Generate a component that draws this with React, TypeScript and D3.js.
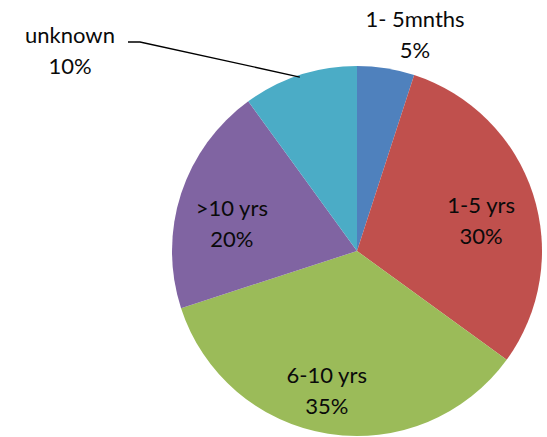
import React from "react";
import * as d3 from "d3";

// Slices in clockwise order starting at 12 o'clock
const categories = ["1- 5mnths", "1-5 yrs", "6-10 yrs", ">10 yrs", "unknown"];
const shares = [5, 30, 35, 20, 10];
const percentLabels = ["5%", "30%", "35%", "20%", "10%"];
const colors = ["#4F81BD", "#C0504D", "#9BBB59", "#8064A2", "#4BACC6"];

const W = 547;
const H = 437;
const CX = 357;
const CY = 251;
const R = 185;
const FONT = "Lato, 'Open Sans', sans-serif";
const FS = 22;
const LINE = 31;

type Datum = { name: string; value: number; pct: string; color: string };

export default function App() {
  const data: Datum[] = categories.map((name, i) => ({
    name,
    value: shares[i],
    pct: percentLabels[i],
    color: colors[i],
  }));

  const pie = d3
    .pie<Datum>()
    .value((d) => d.value)
    .sort(null)
    .startAngle(0)
    .endAngle(2 * Math.PI);
  const arcs = pie(data);

  const arc = d3.arc<d3.PieArcDatum<Datum>>().innerRadius(0).outerRadius(R);
  const labelArc = d3
    .arc<d3.PieArcDatum<Datum>>()
    .innerRadius(R * 0.7)
    .outerRadius(R * 0.7);

  // Small slices get their labels outside the pie
  const outside: Record<string, { x: number; y: number }> = {
    "1- 5mnths": { x: 415, y: 27 },
    unknown: { x: 70, y: 43 },
  };
  // fine placement tweaks for the inside labels
  const nudge: Record<string, [number, number]> = {
    "1-5 yrs": [1, 0],
    "6-10 yrs": [-10, 2],
    ">10 yrs": [-2, 3],
  };

  return (
    <svg
      width={W}
      height={H}
      style={{ position: "absolute", left: 0, top: 0, background: "#fff" }}
    >
      <g transform={`translate(${CX},${CY})`}>
        {arcs.map((a) => (
          <path key={a.data.name} d={arc(a) || ""} fill={a.data.color} />
        ))}
      </g>

      {/* leader line for the "unknown" slice */}
      {(() => {
        const a = arcs[4];
        const mid = (a.startAngle + a.endAngle) / 2;
        const ex = CX + R * Math.sin(mid);
        const ey = CY - R * Math.cos(mid) + 2;
        const line = d3.line()([
          [128, 42],
          [140, 42],
          [ex, ey],
        ]);
        return <path d={line || ""} fill="none" stroke="#000" strokeWidth={1.3} />;
      })()}

      {arcs.map((a) => {
        const o = outside[a.data.name];
        let x: number;
        let y: number;
        if (o) {
          x = o.x;
          y = o.y;
        } else {
          const [lx, ly] = labelArc.centroid(a);
          const [nx, ny] = nudge[a.data.name] || [0, 0];
          x = CX + lx + nx;
          y = CY + ly + 2 + ny;
        }
        return (
          <text
            key={"t" + a.data.name}
            textAnchor="middle"
            fontFamily={FONT}
            fontSize={FS}
            fill="#0a0a0a"
          >
            <tspan x={x} y={y}>
              {a.data.name}
            </tspan>
            <tspan x={x} y={y + LINE}>
              {a.data.pct}
            </tspan>
          </text>
        );
      })}
    </svg>
  );
}
